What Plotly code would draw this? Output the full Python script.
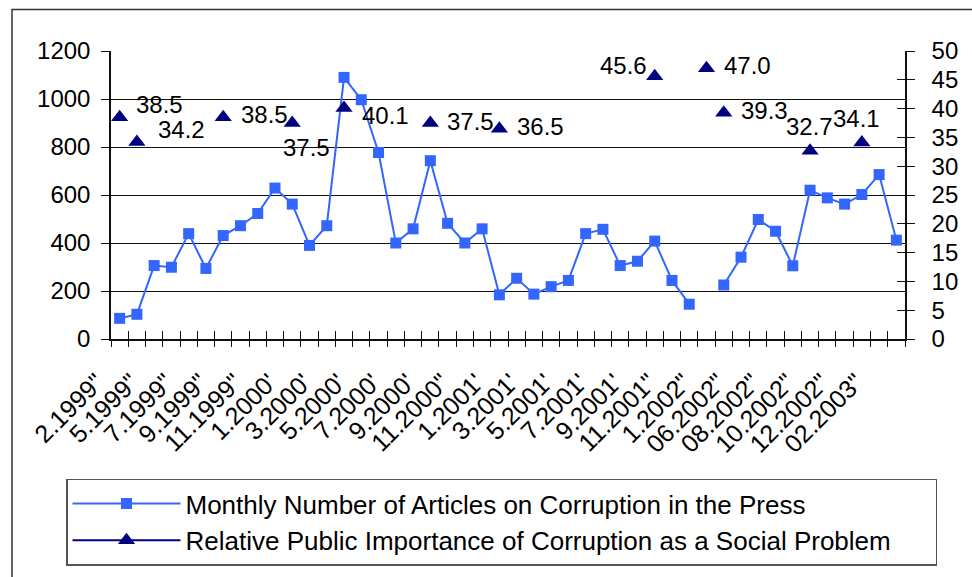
import numpy as np
import plotly.graph_objects as go

# ---------------- data ----------------
categories = [
    '2.1999"', '4.1999"', '5.1999"', '6.1999"', '7.1999"', '8.1999"', '9.1999"', '10.1999"',
    '11.1999"', '12.1999"', "1.2000'", "2.2000'", "3.2000'", "4.2000'", "5.2000'", "6.2000'",
    "7.2000'", "8.2000'", "9.2000'", "10.2000'", '11.2000"', '12.2000"', "1.2001'", "2.2001'",
    "3.2001'", "4.2001'", "5.2001'", "6.2001'", "7.2001'", "8.2001'", "9.2001'", "10.2001'",
    '11.2001"', '12.2001"', '1.2002"', '05.2002"', '06.2002"', '07.2002"', '08.2002"', '09.2002"',
    '10.2002"', '11.2002"', '12.2002"', '01.2003"', '02.2003"', '03.2003"',
]
tick_labels = categories[::2]

articles = [86, 103, 306, 299, 439, 294, 431, 472, 523, 629, 562, 390, 472, 1090, 997, 777,
            400, 459, 743, 482, 400, 459, 184, 253, 187, 218, 244, 439, 457, 306, 324, 408,
            244, 145, None, 225, 341, 498, 449, 305, 620, 588, 562, 602, 685, 412]

importance_cats = ['2.1999"', '4.1999"', '9.1999"', "1.2000'", "4.2000'", "9.2000'",
                   "1.2001'", "10.2001'", '1.2002"', '05.2002"', '10.2002"', '01.2003"']
importance_vals = [38.5, 34.2, 38.5, 37.5, 40.1, 37.5, 36.5, 45.6, 47.0, 39.3, 32.7, 34.1]

name_articles = "Monthly Number of Articles on Corruption in the Press"
name_importance = "Relative Public Importance of Corruption as a Social Problem"

# label offsets (px: right, down) – styling only
label_offsets = [(40, -13), (45, -13), (41, -3), (14, 24), (41, 7), (40, -2), (41, -2),
                 (-31, -11), (41, -3), (41, -2), (-1, -24), (-5, -24)]

# ---------------- style ----------------
FONT = "Liberation Sans, Arial, sans-serif"
BLUE = "#3366FF"
NAVY = "#000080"
W, H = 972, 577
L, R, T, B = 111, 67, 51, 235
pw, ph = W - L - R, H - T - B

n = len(categories)
xr = [-0.5, n - 0.5]
bounds = np.arange(-0.5, n, 1.0)

fig = go.Figure()
fig.add_trace(go.Scatter(
    x=categories, y=articles, mode="lines+markers", name=name_articles,
    line=dict(color=BLUE, width=2), connectgaps=False,
    marker=dict(symbol="square", size=11, color=BLUE),
    xaxis="x", yaxis="y"))
# legend entry for the importance series (line + marker sample, as in the original)
fig.add_trace(go.Scatter(
    x=[None], y=[None], mode="lines+markers", name=name_importance,
    line=dict(color=NAVY, width=2), marker=dict(symbol="triangle-up", size=15, color=NAVY),
    xaxis="x", yaxis="y2"))
fig.add_trace(go.Scatter(
    x=importance_cats, y=importance_vals, mode="markers", name=name_importance,
    marker=dict(symbol="triangle-up", size=15, color=NAVY),
    showlegend=False, xaxis="x", yaxis="y2"))
# helper traces so the overlay tick axes are drawn
for ax in ["x2", "x3"]:
    fig.add_trace(go.Scatter(x=[0], y=[None], mode="markers", showlegend=False,
                             hoverinfo="skip", xaxis=ax, yaxis="y"))
fig.add_trace(go.Scatter(x=[None], y=[0], mode="markers", showlegend=False,
                         hoverinfo="skip", xaxis="x", yaxis="y3"))

for (c, v), (dx, dy) in zip(zip(importance_cats, importance_vals), label_offsets):
    fig.add_annotation(x=c, y=v, xref="x", yref="y2", text=f"{v:.1f}", showarrow=False,
                       xshift=dx, yshift=-dy, font=dict(family=FONT, size=24, color="black"))

axis_common = dict(showgrid=False, zeroline=False)
tick_common = dict(tickwidth=1.3, tickcolor="#111")
fig.update_layout(
    width=W, height=H, margin=dict(l=L, r=R, t=T, b=B),
    paper_bgcolor="white", plot_bgcolor="white",
    font=dict(family=FONT, size=24, color="black"),
    xaxis=dict(type="category", categoryorder="array", categoryarray=categories,
               range=xr, tickmode="array", tickvals=tick_labels, ticktext=tick_labels,
               ticks="", tickangle=-45, tickfont=dict(size=25),
               ticklabelstandoff=17, ticklabelshift=-23,
               showline=True, linecolor="#111", linewidth=1.5, **axis_common),
    xaxis2=dict(overlaying="x", anchor="y", side="bottom", range=xr, tickmode="array",
                tickvals=bounds, ticks="outside", ticklen=7, **tick_common,
                showticklabels=False, showline=False, **axis_common),
    xaxis3=dict(overlaying="x", anchor="y", side="bottom", range=xr, tickmode="array",
                tickvals=bounds, ticks="inside", ticklen=8, **tick_common,
                showticklabels=False, showline=False, **axis_common),
    yaxis=dict(range=[0, 1200], dtick=200, ticks="outside", ticklen=8, **tick_common,
               showline=True, linecolor="#111", linewidth=1.5,
               showgrid=True, gridcolor="#111", gridwidth=1, zeroline=False,
               ticklabelstandoff=6, tickfont=dict(size=24)),
    yaxis2=dict(overlaying="y", anchor="x", side="right", range=[0, 50], dtick=5,
                ticks="outside", ticklen=8, **tick_common,
                showline=True, linecolor="#111", linewidth=1.5, ticklabelstandoff=12,
                tickfont=dict(size=24), **axis_common),
    yaxis3=dict(overlaying="y", anchor="x", side="right", range=[0, 50], dtick=5,
                ticks="inside", ticklen=8, **tick_common,
                showticklabels=False, showline=False, **axis_common),
    legend=dict(orientation="h", entrywidth=745, entrywidthmode="pixels",
                x=(66 - L) / pw, y=(T + ph - 571) / ph, xanchor="left", yanchor="bottom",
                bordercolor="#555", borderwidth=1.5, bgcolor="white",
                font=dict(family=FONT, size=26), itemwidth=108, traceorder="normal"),
    shapes=[dict(type="rect", xref="paper", yref="paper",
                 x0=(12 - L) / pw, x1=1.2, y0=-1.2, y1=(T + ph - 9) / ph,
                 line=dict(color="#333", width=1.5), layer="below")],
)

fig.write_html("out.html")
